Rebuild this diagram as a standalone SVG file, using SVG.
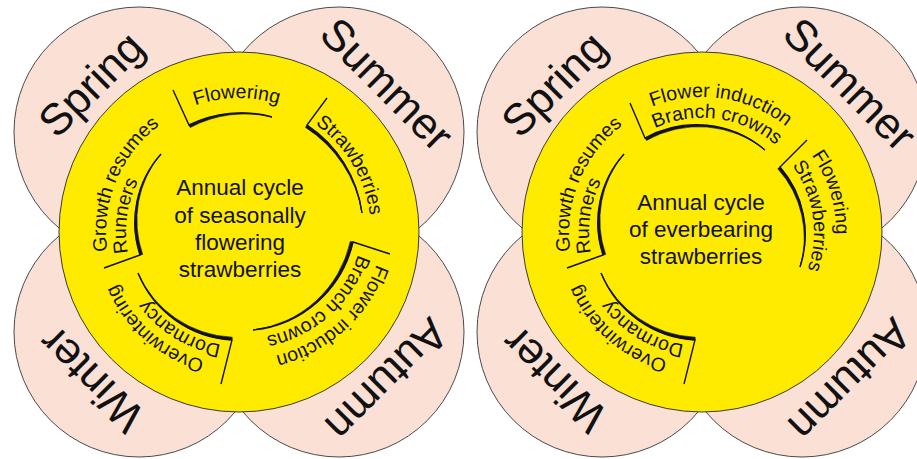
<svg xmlns="http://www.w3.org/2000/svg" width="917" height="459" viewBox="0 0 917 459">
<style>
.season{fill:#fbe0d6;stroke:#4a4a4a;stroke-width:1}
.hub{fill:#ffeb00;stroke:#3a3a3a;stroke-width:1}
text{font-family:"Liberation Sans",Arial,sans-serif;fill:#111}
.sl{font-size:44px;text-anchor:middle}
.ht{font-size:22.5px;text-anchor:middle}
.pt{font-size:19.5px;text-anchor:middle}
.br{fill:none;stroke:#111;stroke-width:1.4;stroke-linejoin:miter}
.cr{fill:#111;stroke:#111;stroke-width:0.6}
</style>
<defs>
<path id="pFlowL" d="M -131.5 25.6 A 134 134 0 1 1 132.4 21.0"/>
<path id="pStrawL" d="M -86.6 -99.6 A 132 132 0 1 1 47.3 123.2"/>
<path id="pGrowth" d="M -28.8 129.8 A 133 133 0 1 1 71.5 -112.2"/>
<path id="pRunners" d="M 3.9 112.9 A 113 113 0 1 1 34.9 -107.5"/>
<path id="pOver" d="M 114.0 68.5 A 133 133 0 1 1 -83.7 -103.4"/>
<path id="pDorm" d="M 106.1 41.8 A 114 114 0 1 1 -85.4 -75.5"/>
<path id="pFIndL" d="M 91.0 -128.2 A 143 143 0 1 1 -118.3 60.3"/>
<path id="pBranchL" d="M 78.6 -111.2 A 122 122 0 1 1 -100.8 48.6"/>
<path id="pFIndR" d="M -135.0 3.5 A 135 135 0 1 1 128.0 42.8"/>
<path id="pBranchR" d="M -113.9 4.0 A 114 114 0 1 1 108.4 35.2"/>
<path id="pFlowR" d="M -60.8 -119.4 A 134 134 0 1 1 16.3 133.0"/>
<path id="pStrawR" d="M -35.5 -106.2 A 112 112 0 1 1 -2.9 112.0"/>
</defs>

<g id="seasonal" transform="translate(239,232)">
  <g id="s-spring"><circle class="season" cx="-100" cy="-100" r="125"/></g>
  <g id="s-summer"><circle class="season" cx="100" cy="-100" r="125"/></g>
  <g id="s-autumn"><circle class="season" cx="100" cy="100" r="125"/></g>
  <g id="s-winter"><circle class="season" cx="-100" cy="100" r="125"/></g>
  <g id="s-labels">
    <text class="sl" transform="rotate(-45)" x="0" y="-194">Spring</text>
    <text class="sl" transform="rotate(45)" x="0" y="-194">Summer</text>
    <text class="sl" transform="rotate(135)" x="0" y="-194">Autumn</text>
    <text class="sl" transform="rotate(-135)" x="0" y="-194">Winter</text>
  </g>
  <g id="s-hub">
    <circle class="hub" cx="0" cy="0" r="180"/>
    <text class="ht" x="1" y="-37">Annual cycle</text>
    <text class="ht" x="1" y="-9">of seasonally</text>
    <text class="ht" x="1" y="18">flowering</text>
    <text class="ht" x="1" y="45">strawberries</text>
  </g>
  <g id="s-flowering">
    <path class="br" d="M -66 -142 L -50 -107 A 118 118 0 0 1 33 -115"/>
    <path class="cr" d="M -50 -107 A 118 118 0 0 1 33 -115 A 118 118 0 0 0 -48.8 -104.5 Z"/>
    <text class="pt"><textPath href="#pFlowL" startOffset="50%">Flowering</textPath></text>
  </g>
  <g id="s-strawberries">
    <path class="br" d="M 88 -134 L 68 -107 A 126 126 0 0 1 123 -19"/>
    <path class="cr" d="M 68 -107 A 126 126 0 0 1 123 -19 A 126 126 0 0 0 66.5 -104.6 Z"/>
    <text class="pt"><textPath href="#pStrawL" startOffset="50%">Strawberries</textPath></text>
  </g>
  <g id="s-induction">
    <path class="br" d="M 151 22 L 114 10 A 114 114 0 0 1 14 98"/>
    <path class="cr" d="M 114 10 A 114 114 0 0 1 14 98 A 114 114 0 0 0 111.3 9.4 Z"/>
    <text class="pt"><textPath href="#pFIndL" startOffset="50%">Flower induction</textPath></text>
    <text class="pt"><textPath href="#pBranchL" startOffset="50%">Branch crowns</textPath></text>
  </g>
  <g id="s-overwintering">
    <path class="br" d="M -18 152 L -7 108 A 108 108 0 0 1 -101 41"/>
    <path class="cr" d="M -7 108 A 108 108 0 0 1 -101 41 A 108 108 0 0 0 -6.8 105.2 Z"/>
    <text class="pt"><textPath href="#pOver" startOffset="50%">Overwintering</textPath></text>
    <text class="pt"><textPath href="#pDorm" startOffset="50%">Dormancy</textPath></text>
  </g>
  <g id="s-growth">
    <path class="br" d="M -135 36 L -99 23 A 103 103 0 0 1 -78 -78"/>
    <path class="cr" d="M -99 23 A 103 103 0 0 1 -78 -78 A 103 103 0 0 0 -96.3 22.4 Z"/>
    <text class="pt"><textPath href="#pGrowth" startOffset="50%">Growth resumes</textPath></text>
    <text class="pt"><textPath href="#pRunners" startOffset="50%">Runners</textPath></text>
  </g>
</g>

<g id="everbearing" transform="translate(702,232)">
  <g id="e-spring"><circle class="season" cx="-100" cy="-100" r="125"/></g>
  <g id="e-summer"><circle class="season" cx="100" cy="-100" r="125"/></g>
  <g id="e-autumn"><circle class="season" cx="100" cy="100" r="125"/></g>
  <g id="e-winter"><circle class="season" cx="-100" cy="100" r="125"/></g>
  <g id="e-labels">
    <text class="sl" transform="rotate(-45)" x="0" y="-194">Spring</text>
    <text class="sl" transform="rotate(45)" x="0" y="-194">Summer</text>
    <text class="sl" transform="rotate(135)" x="0" y="-194">Autumn</text>
    <text class="sl" transform="rotate(-135)" x="0" y="-194">Winter</text>
  </g>
  <g id="e-hub">
    <circle class="hub" cx="0" cy="0" r="180"/>
    <text class="ht" x="-1" y="-22">Annual cycle</text>
    <text class="ht" x="-1" y="5">of everbearing</text>
    <text class="ht" x="-1" y="32">strawberries</text>
  </g>
  <g id="e-induction">
    <path class="br" d="M -72 -129 L -57 -94 A 106 106 0 0 1 63 -82"/>
    <path class="cr" d="M -57 -94 A 106 106 0 0 1 63 -82 A 106 106 0 0 0 -55.5 -91.6 Z"/>
    <text class="pt"><textPath href="#pFIndR" startOffset="50%">Flower induction</textPath></text>
    <text class="pt"><textPath href="#pBranchR" startOffset="50%">Branch crowns</textPath></text>
  </g>
  <g id="e-flowering">
    <path class="br" d="M 105 -92 L 78 -65 A 103 103 0 0 1 98 35"/>
    <path class="cr" d="M 78 -65 A 103 103 0 0 1 98 35 A 103 103 0 0 0 75.8 -63.2 Z"/>
    <text class="pt"><textPath href="#pFlowR" startOffset="50%">Flowering</textPath></text>
    <text class="pt"><textPath href="#pStrawR" startOffset="50%">Strawberries</textPath></text>
  </g>
  <g id="e-overwintering">
    <path class="br" d="M -18 152 L -7 108 A 108 108 0 0 1 -101 41"/>
    <path class="cr" d="M -7 108 A 108 108 0 0 1 -101 41 A 108 108 0 0 0 -6.8 105.2 Z"/>
    <text class="pt"><textPath href="#pOver" startOffset="50%">Overwintering</textPath></text>
    <text class="pt"><textPath href="#pDorm" startOffset="50%">Dormancy</textPath></text>
  </g>
  <g id="e-growth">
    <path class="br" d="M -135 36 L -99 23 A 103 103 0 0 1 -78 -78"/>
    <path class="cr" d="M -99 23 A 103 103 0 0 1 -78 -78 A 103 103 0 0 0 -96.3 22.4 Z"/>
    <text class="pt"><textPath href="#pGrowth" startOffset="50%">Growth resumes</textPath></text>
    <text class="pt"><textPath href="#pRunners" startOffset="50%">Runners</textPath></text>
  </g>
</g>
</svg>
